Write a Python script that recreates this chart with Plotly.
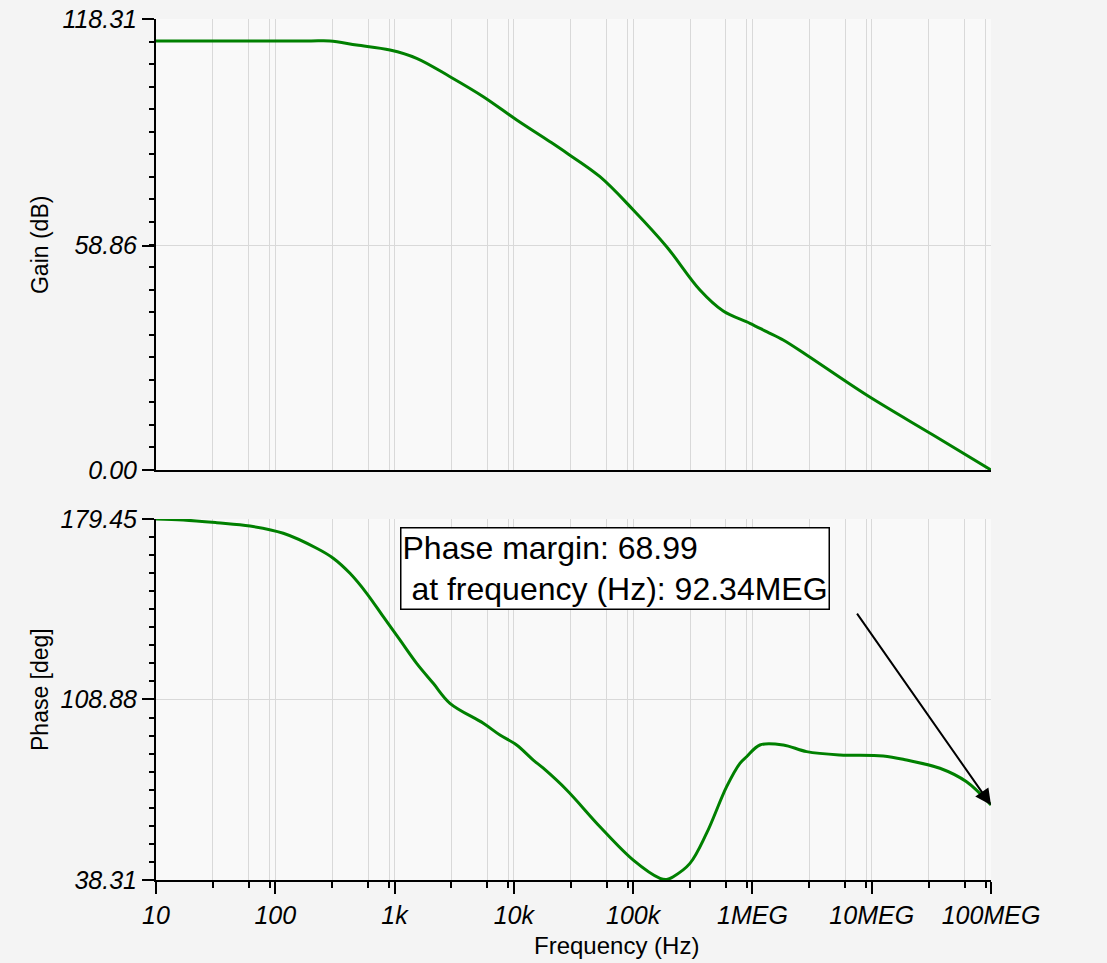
import math
import plotly.graph_objects as go

# ---- data ----
gain_freq = [10, 30, 100, 200, 287, 481, 915, 1531, 2916, 5546, 10570, 20090, 27730, 52710,
             100300, 190900, 363100, 568900, 952500, 1315000, 1812000, 2846000,
             9060000, 32700000, 100000000]
gain_db = [112.54, 112.54, 112.54, 112.54, 112.54, 111.49, 110.18, 108.0, 103.17, 97.93, 91.82,
           86.12, 83.16, 76.94, 68.21, 58.58, 47.22, 41.71, 38.48, 36.28, 34.10, 30.17,
           19.67, 9.18, 0.0]

phase_freq = [10, 16.9, 32.3, 61.4, 116.7, 222.3, 306, 422.7, 583.6, 804, 1109, 1531,
              2110, 2912, 5546, 7646, 10550, 14550, 17660, 27730, 52710, 100300,
              168000, 190900, 216900, 299300, 413000, 608000, 785600, 893700,
              1156000, 1812000, 2846000, 5410000, 12480000, 19600000, 37300000,
              62400000, 100000000]
phase_deg = [179.45, 179.06, 178.0, 176.7, 173.86, 168.0, 164.1, 158.2, 150.4, 141.25, 132.14, 123.0,
             115.2, 107.4, 99.6, 95.0, 91.1, 85.2, 82.0, 73.5, 59.15, 46.1,
             38.97, 38.5, 39.6, 44.8, 56.6, 74.8, 83.9, 86.5,
             91.1, 91.1, 88.5, 87.2, 86.8, 85.2, 82.0,
             76.7, 67.6]

x_tickvals = [10, 100, 1e3, 1e4, 1e5, 1e6, 1e7, 1e8]
x_ticktext = ["10", "100", "1k", "10k", "100k", "1MEG", "10MEG", "100MEG"]
x_minor = [m * 10 ** k for k in range(1, 8) for m in (3, 6, 9)]

gain_ticks = [0.0, 58.86, 118.31]
gain_ticktext = ["0.00", "58.86", "118.31"]
phase_ticks = [38.31, 108.88, 179.45]
phase_ticktext = ["38.31", "108.88", "179.45"]

pm_text = "Phase margin: 68.99<br>\u00a0at frequency (Hz): 92.34MEG"

FONT = "Arial, Liberation Sans, sans-serif"
GREEN = "#008000"
GRID = "#d9d9d9"
TICKFONT = dict(size=25, style="italic", family=FONT)

fig = go.Figure()
fig.add_trace(go.Scatter(x=gain_freq, y=gain_db, xaxis="x", yaxis="y", mode="lines",
                         line=dict(color=GREEN, width=3, shape="spline", smoothing=1.0),
                         showlegend=False, hoverinfo="skip"))
fig.add_trace(go.Scatter(x=phase_freq, y=phase_deg, xaxis="x2", yaxis="y2", mode="lines",
                         line=dict(color=GREEN, width=3, shape="spline", smoothing=1.0),
                         showlegend=False, hoverinfo="skip"))

common_x = dict(type="log", range=[1, 8], tickvals=x_tickvals, ticktext=x_ticktext,
                showgrid=True, gridcolor=GRID, gridwidth=1, zeroline=False,
                showline=True, linecolor="black", linewidth=2, automargin=False)

fig.update_layout(
    width=1107, height=963,
    margin=dict(l=156, r=116, t=19, b=83),
    paper_bgcolor="#f4f4f4", plot_bgcolor="#f9f9f9",
    font=dict(family=FONT, color="black"),
    xaxis=dict(common_x, domain=[0, 1], anchor="y", showticklabels=False, ticks="",
               matches="x2",
               minor=dict(tickmode="array", tickvals=x_minor, showgrid=True, gridcolor=GRID,
                          gridwidth=1)),
    xaxis2=dict(common_x, domain=[0, 1], anchor="y2", ticks="outside", ticklen=12,
                tickwidth=2, tickcolor="black", tickfont=TICKFONT,
                minor=dict(tickmode="array", tickvals=x_minor, showgrid=True, gridcolor=GRID,
                           ticks="outside", ticklen=6, tickwidth=2, tickcolor="black")),
    yaxis=dict(domain=[0.4762, 1], range=[0, 118.31], tickvals=gain_ticks,
               ticktext=gain_ticktext, ticks="outside", ticklen=12, tickwidth=2,
               tickcolor="black", showline=True, linecolor="black", linewidth=2,
               showgrid=True, gridcolor=GRID, zeroline=False, automargin=False,
               tickfont=TICKFONT,
               minor=dict(tick0=0, dtick=118.31 / 20, ticks="outside", ticklen=5,
                          tickwidth=2, tickcolor="black", showgrid=False)),
    yaxis2=dict(domain=[0, 0.4193], range=[38.31, 179.45], tickvals=phase_ticks,
                ticktext=phase_ticktext, ticks="outside", ticklen=12, tickwidth=2,
                tickcolor="black", showline=True, linecolor="black", linewidth=2,
                showgrid=True, gridcolor=GRID, zeroline=False, automargin=False,
                tickfont=TICKFONT,
                minor=dict(tick0=38.31, dtick=(179.45 - 38.31) / 20, ticks="outside",
                           ticklen=5, tickwidth=2, tickcolor="black", showgrid=False)),
)

annotations = [
    dict(text="Gain (dB)", xref="paper", yref="paper", x=-0.1389, y=0.7375,
         textangle=-90, showarrow=False, font=dict(size=23, family=FONT),
         xanchor="center", yanchor="middle"),
    dict(text="Phase [deg]", xref="paper", yref="paper", x=-0.1389, y=0.2207,
         textangle=-90, showarrow=False, font=dict(size=23, family=FONT),
         xanchor="center", yanchor="middle"),
    dict(text="Frequency (Hz)", xref="paper", yref="paper", x=0.552, y=-0.0755,
         showarrow=False, font=dict(size=24, family=FONT),
         xanchor="center", yanchor="middle"),
    dict(text=pm_text, xref="paper", yref="paper", x=0.2922, y=0.41,
         xanchor="left", yanchor="top", align="left", showarrow=False,
         font=dict(size=32, family=FONT), bgcolor="white", bordercolor="black",
         borderwidth=1.5, borderpad=1),
    dict(text="", xref="x2", yref="y2", x=math.log10(phase_freq[-1]), y=phase_deg[-1],
         showarrow=True, ax=-135, ay=-193, arrowhead=2, arrowsize=1.6, arrowwidth=2,
         arrowcolor="black"),
]
fig.update_layout(annotations=annotations)

fig.write_html("out.html")
